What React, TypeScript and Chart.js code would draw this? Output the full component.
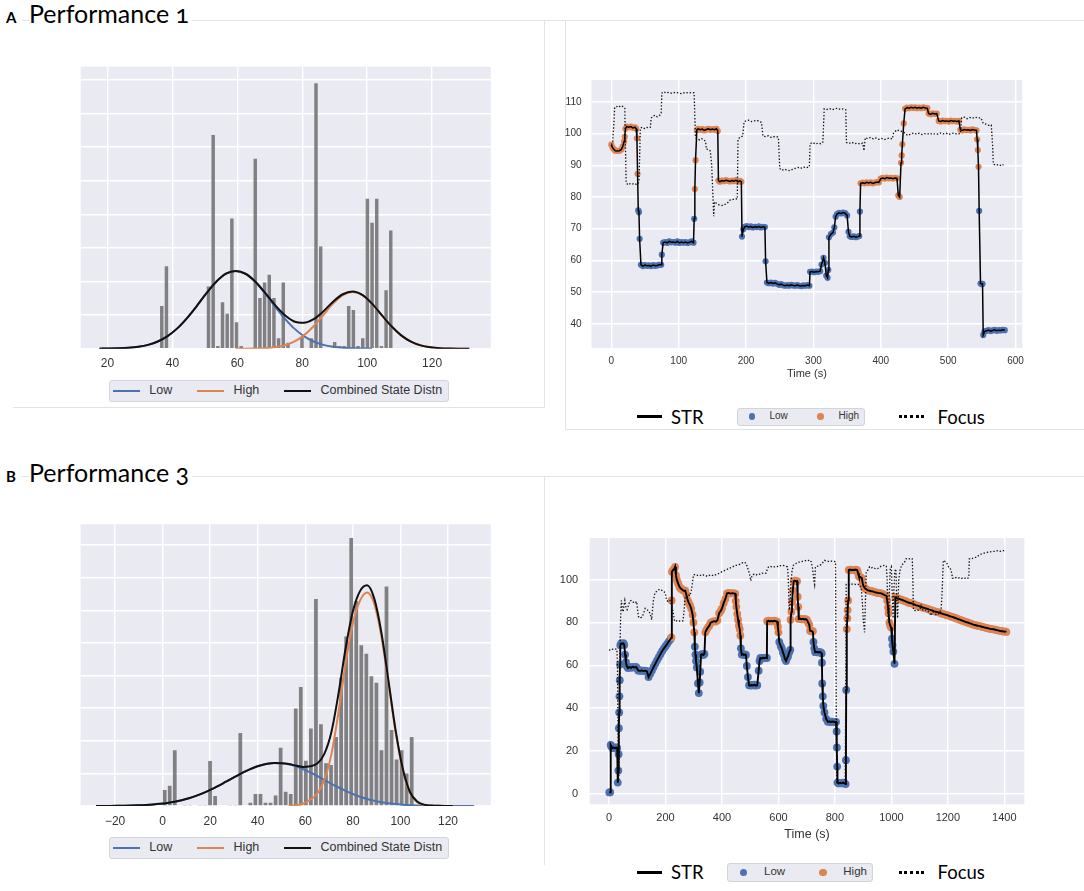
import { useEffect, useRef } from "react";
import { Chart, registerables } from "chart.js";

Chart.register(...registerables);

const SANS = "'Liberation Sans', Arial, sans-serif";
const HUMANIST = "Lato, 'Open Sans', sans-serif";
const BLUE = "#4C72B0";
const ORANGE = "#DD8452";
const PLOT_BG = "#EAEAF2";
const TEXT = "#333333";
const RULE = "#e3e3e3";

// ---------- Performance 1: histogram + state densities ----------
const perf1BinStart = 36;
const perf1BinWidth = 1.44;
const perf1Hist = [
  1.27, 2.45, 0, 0, 0, 0, 0, 0, 0, 0,
  1.85, 6.36, 0.08, 1.38, 1.04, 3.87, 0.79, 0.08, 0, 0,
  5.65, 1.51, 1.97, 2.2, 1.51, 0.31, 1.97, 0.18, 0, 0,
  0.35, 0, 0.31, 7.9, 3.04, 0, 0, 0.2, 0.08, 0.08,
  1.27, 1.15, 0.08, 0.31, 4.46, 3.75, 4.46, 0.08, 1.74, 3.52,
];
const perf1DensX = [
  17.5, 20.5, 23.5, 26.5, 29.5, 32.5, 35.5, 38.5, 41.5, 44.5, 47.5, 50.5, 53.5,
  56.5, 59.5, 62.5, 65.5, 68.5, 71.5, 74.5, 77.5, 80.5, 83.5, 86.5, 89.5, 92.5,
  95.5, 98.5, 101.5, 104.5, 107.5, 110.5, 113.5, 116.5, 119.5, 122.5, 125.5, 128.5, 131.5,
];
const perf1Low: (number | null)[] = [
  0.0016, 0.0043, 0.011, 0.026, 0.056, 0.114, 0.214, 0.374, 0.605, 0.912,
  1.27, 1.65, 1.99, 2.23, 2.31, 2.23, 1.99, 1.65, 1.27, 0.912,
  0.605, 0.374, 0.214, 0.114, 0.056, 0.026, 0.011, 0.0043, 0.0016,
  null, null, null, null, null, null, null, null, null, null,
];
const perf1High: (number | null)[] = [
  null, null, null, null, null, null, null, null, null, null, null, null, null, null,
  0.0004, 0.0015, 0.005, 0.015, 0.041, 0.098, 0.209, 0.396, 0.668, 1.0,
  1.34, 1.595, 1.69, 1.595, 1.34, 1.0, 0.668, 0.396, 0.209, 0.098,
  0.041, 0.015, 0.005, 0.0015, 0.0004,
];
const perf1Combined: (number | null)[] = [
  0.0016, 0.0043, 0.011, 0.026, 0.056, 0.114, 0.214, 0.374, 0.605, 0.912,
  1.27, 1.65, 1.99, 2.23, 2.31, 2.23, 2.0, 1.67, 1.31, 1.01,
  0.81, 0.77, 0.88, 1.11, 1.4, 1.62, 1.7, 1.6, 1.34, 1.0,
  0.668, 0.396, 0.209, 0.098, 0.041, 0.015, 0.005, 0.0015, 0.0004,
];
const perf1HistTicks = [20, 40, 60, 80, 100, 120];

// ---------- Performance 3: histogram + state densities ----------
const perf3BinStart = -0.2;
const perf3BinWidth = 2.12;
const perf3Hist = [
  0.49, 0.62, 1.71, 0, 0.03, 0.03, 0, 0.03, 0.03, 1.38,
  0.31, 0, 0, 0.03, 0.03, 2.24, 0, 0.1, 0.37, 0.37,
  0.1, 0.1, 0.32, 1.79, 0.44, 0.37, 2.99, 3.65, 1.39, 2.38,
  6.35, 2.51, 1.31, 1.26, 2.12, 3.93, 5.2, 8.22, 6.29, 4.93,
  4.67, 3.98, 3.78, 1.71, 6.73, 2.33, 1.43, 1.71, 1.0, 2.12,
];
const perf3DensX = [
  -28, -25, -22, -19, -16, -13, -10, -7, -4, -1, 2, 5, 8, 11, 14, 17, 20, 23,
  26, 29, 32, 35, 38, 41, 44, 47, 50, 53, 56, 59, 62, 65, 68, 71, 74, 77, 80,
  83, 86, 89, 92, 95, 98, 101, 104, 107, 110, 113, 116, 119, 122, 125, 128, 131,
];
const perf3Low: (number | null)[] = [
  0.001, 0.0017, 0.0029, 0.0048, 0.0079, 0.0126, 0.0197, 0.03, 0.045, 0.066,
  0.094, 0.131, 0.179, 0.239, 0.311, 0.397, 0.495, 0.604, 0.721, 0.841,
  0.958, 1.069, 1.165, 1.241, 1.294, 1.318, 1.313, 1.28, 1.218, 1.135,
  1.033, 0.92, 0.8, 0.681, 0.567, 0.462, 0.367, 0.285, 0.217, 0.161,
  0.117, 0.083, 0.058, 0.039, 0.026, 0.017, 0.011, 0.0067, 0.0041, 0.0024,
  0.0014, 0.0008, 0.0005, 0.0003,
];
const perf3High: (number | null)[] = [
  null, null, null, null, null, null, null, null, null, null,
  null, null, null, null, null, null, null, null, null, null,
  null, null, null, null, null, null, null,
  0.008, 0.025, 0.07, 0.19, 0.38, 0.8, 1.6, 2.9, 4.4, 5.6, 6.3, 6.55,
  6.2, 5.2, 3.75, 2.25, 1.1, 0.4, 0.12, 0.03, 0.006, 0.001, 0,
  null, null, null, null,
];
const perf3Combined: (number | null)[] = [
  0.001, 0.0017, 0.0029, 0.0048, 0.0079, 0.0126, 0.0197, 0.03, 0.045, 0.066,
  0.094, 0.131, 0.179, 0.239, 0.311, 0.397, 0.495, 0.604, 0.721, 0.841,
  0.958, 1.069, 1.165, 1.241, 1.294, 1.318, 1.313,
  1.29, 1.24, 1.2, 1.22, 1.3, 1.6, 2.28, 3.47, 4.86, 5.97, 6.59, 6.77,
  6.36, 5.32, 3.83, 2.31, 1.14, 0.43, 0.14, 0.041, 0.013, 0.005, 0.0024, 0.0014,
  null, null, null,
];
const perf3HistTicks = [-20, 0, 20, 40, 60, 80, 100, 120];
const densityGrid = [0, 1, 2, 3, 4, 5, 6, 7, 8];

// ---------- Performance 1: STR over time ----------
const perf1LowState: [number, number][] = [
  [40, 75.8], [41, 75.2], [42, 66.8], [44, 58.6], [47, 58.2], [50, 58.5], [53, 58.3], [56, 58.4],
  [59, 58.2], [62, 58.5], [65, 58.3], [68, 58.4], [71, 58.6], [74, 58.6], [75, 61.8], [77, 65.6],
  [80, 65.8], [83, 65.5], [86, 66], [89, 65.7], [92, 65.8], [95, 65.6], [98, 66], [101, 65.5],
  [104, 65.8], [107, 65.6], [110, 65.8], [113, 65.5], [116, 65.7], [119, 66], [122, 65.6], [123, 73.1],
  [194, 67.5], [196, 69.8], [198, 70.6], [201, 70.8], [204, 70.5], [207, 70.7], [210, 70.4], [213, 70.6],
  [216, 70.5], [219, 70.7], [222, 70.4], [225, 70.6], [228, 70.5], [229, 59.7], [231, 53], [234, 52.8],
  [237, 53], [240, 52.7], [243, 52.9], [246, 52.6], [249, 52.3], [252, 52.5], [255, 52.2], [258, 52],
  [261, 52.2], [264, 52], [267, 52.3], [270, 52.1], [273, 52], [276, 52.2], [279, 52], [282, 51.9],
  [285, 52.1], [288, 52], [291, 52.2], [294, 52], [295, 56.4], [298, 56.5], [301, 56.3], [304, 56.5],
  [307, 56.4], [310, 56.6], [312, 58.7], [315, 60.8], [317, 59.2], [319, 55.2], [321, 54.5], [322, 57],
  [323, 67.3], [326, 68.3], [329, 68.8], [331, 70.4], [333, 73.8], [335, 74.6], [338, 75], [341, 74.8],
  [344, 75.1], [347, 74.9], [350, 74.2], [352, 69], [354, 67.6], [357, 67.4], [360, 67.6], [363, 67.3],
  [366, 67.5], [368, 67.7], [369, 75.4],
  [546, 75.6], [548, 52.7], [550, 52.5], [551, 52.6], [552, 36.5], [554, 37.6], [557, 37.8], [560, 38],
  [563, 37.7], [566, 37.9], [569, 38.1], [572, 37.8], [575, 38], [578, 37.9], [581, 38.1], [584, 38],
];
const perf1HighState: [number, number][] = [
  [0, 96.5], [2, 95.5], [4, 95], [6, 94.6], [9, 94.5], [12, 94.6], [15, 95], [17, 96], [19, 97.5],
  [20, 99], [21, 101.5], [23, 102.2], [26, 102], [29, 102.2], [32, 101.8], [35, 102], [37, 101.5],
  [38, 98.5], [39, 87.3],
  [124, 82.5], [125, 91.6], [127, 101.2], [129, 101.5], [132, 101.2], [135, 101.4], [138, 101],
  [141, 101.3], [144, 101.5], [147, 101.2], [150, 101.4], [153, 101.2], [156, 101.5], [158, 100.8],
  [159, 85.2], [161, 84.8], [164, 85.2], [167, 85], [170, 85.3], [173, 85.1], [176, 84.9], [179, 85.2],
  [182, 85], [185, 85.3], [188, 84.8], [191, 85.1], [193, 84.8],
  [370, 84.3], [373, 84.5], [376, 84.3], [379, 84.6], [382, 84.4], [385, 84.6], [388, 84.3], [391, 84.5],
  [394, 84.7], [397, 84.6], [400, 85.8], [403, 86], [406, 85.8], [409, 86.1], [412, 85.9], [415, 86],
  [418, 85.8], [421, 86], [424, 85.9], [426, 80.5], [428, 80], [430, 90.8], [431, 93.1], [432, 96.6],
  [434, 103.2], [436, 107.8], [439, 108.2], [442, 108], [445, 108.3], [448, 108.1], [451, 108.3],
  [454, 108], [457, 108.2], [460, 108], [463, 108.3], [466, 108.1], [469, 108], [471, 106.3],
  [474, 106.1], [477, 106.4], [480, 106.2], [483, 106.3], [486, 104], [489, 103.8], [492, 104.1],
  [495, 103.9], [498, 104], [501, 103.8], [504, 104.1], [507, 103.9], [510, 104], [513, 103.8],
  [516, 104], [518, 101.2], [521, 101], [524, 101.3], [527, 101.1], [530, 101.2], [533, 101],
  [536, 101.3], [539, 101.1], [542, 101], [543, 98.2], [544, 94.8], [545, 89.5],
];
const perf1Focus: [number, number][] = [
  [0, 96.5], [2, 97], [4, 104], [5, 108.3], [8, 108.5], [11, 108.8], [14, 108.3], [17, 108.6],
  [20, 108], [21, 96], [22, 84.5], [25, 83.8], [28, 84.2], [31, 84], [34, 84.3], [37, 84], [40, 84.2],
  [41, 85], [42, 92], [43, 101.7], [46, 102], [49, 101.6], [52, 102], [55, 101.8], [58, 102],
  [59, 104.8], [62, 105.5], [65, 105.8], [68, 105.3], [71, 105.6], [74, 106.3], [75, 112.8],
  [78, 113.2], [81, 112.8], [85, 113], [90, 112.7], [95, 113], [100, 112.8], [105, 112.6], [110, 113],
  [115, 112.8], [120, 113], [123, 112.8], [124, 105], [125, 98.7], [128, 98.3], [131, 98], [134, 98.4],
  [137, 98.1], [140, 97.5], [141, 95.1], [144, 95], [147, 94.5], [149, 90], [151, 79.5], [152, 73.9],
  [153, 78.5], [156, 78], [160, 77.5], [164, 77.3], [168, 77.6], [172, 78], [176, 79], [180, 79.2],
  [184, 79.5], [187, 79.3], [188, 98.2], [192, 99], [195, 99.2], [197, 103.7], [200, 104], [204, 104.2],
  [208, 103.8], [212, 104], [216, 104.2], [220, 103.8], [223, 103.5], [225, 99.2], [229, 99], [233, 99.3],
  [237, 98.8], [241, 99], [245, 99.1], [248, 98.8], [250, 89], [253, 88.4], [257, 88.8], [261, 88.5],
  [265, 88.3], [269, 88.7], [273, 89], [277, 89.3], [281, 89], [285, 89.5], [289, 89.2], [294, 89.5],
  [295, 96.8], [299, 97.2], [303, 96.7], [307, 97], [311, 96.8], [314, 97.3], [316, 107.8], [320, 107.6],
  [324, 107.9], [328, 107.5], [332, 107.8], [336, 108], [340, 107.6], [344, 107.8], [348, 107.5],
  [349, 97.2], [353, 96.9], [357, 97.3], [361, 96.8], [365, 97], [369, 96.7], [373, 97], [375, 94.6],
  [377, 98.7], [381, 98.4], [385, 98.8], [389, 98.3], [393, 98.6], [397, 98.2], [401, 98.5], [405, 98.1],
  [409, 98.4], [413, 98.6], [417, 98.3], [419, 100.2], [424, 101.2], [428, 100.8], [432, 100.7],
  [436, 100.1], [440, 99.4], [444, 99.8], [449, 100.2], [453, 99.8], [457, 100.1], [461, 99.7],
  [465, 100], [469, 99.8], [473, 100.1], [477, 99.7], [481, 100], [485, 99.8], [489, 100.2],
  [493, 99.9], [497, 100.1], [501, 99.7], [505, 100], [509, 100.2], [513, 99.8], [518, 100],
  [520, 105], [524, 105.2], [528, 104.7], [532, 105.1], [536, 104.8], [540, 105.2], [544, 104.9],
  [548, 105], [550, 104.3], [552, 103.2], [556, 103], [560, 102.6], [564, 102.7], [566, 96],
  [567, 90.4], [571, 90], [575, 90.3], [579, 89.8], [582, 90.2],
];
const perf1TimeTicks = [0, 100, 200, 300, 400, 500, 600];
const perf1StrTicks = [40, 50, 60, 70, 80, 90, 100, 110];

// ---------- Performance 3: STR over time ----------
const perf3LowState: [number, number][] = [
  [1, 0.6], [4, 0.7], [6, 22.8], [9, 22], [13, 21.3], [17, 21.6], [21, 21.2], [25, 21.6], [29, 21.4],
  [31, 5.2], [33, 10.8], [34, 18.5], [35, 30.6], [36, 38], [37, 45.5], [38, 53], [39, 60.4], [40, 69.4],
  [43, 70.2], [47, 70], [51, 70.3], [54, 69.5], [57, 65], [60, 61.5], [63, 59.5], [67, 58.7], [72, 59.2],
  [78, 58.8], [84, 59.3], [90, 59], [96, 59.2], [100, 58.4], [104, 57.5], [110, 57.4], [116, 57.6],
  [122, 57.3], [128, 57.5], [134, 57.2], [140, 54.5], [146, 56], [152, 57.6], [158, 59.2], [164, 60.8],
  [170, 62.3], [176, 63.7], [182, 65.2], [188, 66.6], [194, 67.8], [200, 68.9], [206, 70], [212, 71.2],
  [218, 72.3],
  [304, 68.7], [306, 65], [308, 62], [311, 59], [315, 51.5], [318, 47], [321, 52], [323, 57], [326, 65],
  [330, 65.2], [334, 64.8], [338, 65.3],
  [467, 67.9], [470, 65], [474, 65.2], [478, 64.8], [482, 65.1], [485, 64.9], [488, 59.7], [492, 54.5],
  [496, 50.7], [500, 50.5], [505, 50.8], [510, 50.6], [515, 50.9], [520, 50.5], [525, 50.7], [530, 57.5],
  [533, 62], [536, 63.4], [541, 63.2], [546, 63.5], [551, 63.3], [556, 63.6], [559, 63.4],
  [603, 70.9], [608, 69], [612, 67.9], [616, 66], [619, 65], [623, 63], [627, 62], [631, 63.5],
  [634, 64.2], [638, 66], [642, 67.2],
  [724, 70.9], [727, 67.9], [730, 66.1], [735, 66.3], [740, 66], [745, 66.2], [750, 66], [753, 65.5],
  [754, 61.2], [755, 51.5], [757, 45.5], [759, 41], [763, 38], [769, 35], [775, 33.6], [780, 33.8],
  [785, 33.5], [790, 33.7], [795, 33.6], [800, 33.5], [804, 33.6], [806, 29.1], [807, 21.6], [808, 12.7],
  [809, 5.2], [814, 4.8], [819, 5.1], [824, 4.9], [829, 5.2], [834, 4.8], [838, 4.5], [839, 15.7],
  [840, 48.5],
  [1002, 72.4], [1004, 69.4], [1007, 66.4], [1011, 60.7],
];
const perf3HighState: [number, number][] = [
  [221, 73], [222, 90.3], [223, 103.7], [227, 104.5], [231, 105], [234, 106], [237, 102], [240, 100],
  [243, 98.8], [246, 97.8], [250, 96.5], [254, 95.8], [258, 95.5], [262, 95], [266, 94.8], [270, 94.8],
  [274, 93], [279, 90.3], [283, 89], [287, 88], [291, 86.5], [296, 83.6], [299, 80], [302, 75.4],
  [341, 75.4], [345, 76.5], [350, 77.6], [355, 78.5], [360, 79.9], [366, 80.3], [372, 80.6], [378, 80.4],
  [384, 81], [390, 84.3], [396, 85.5], [400, 86.6], [406, 89], [412, 91], [418, 93.6], [424, 93.8],
  [430, 93.5], [436, 93.7], [442, 93.6], [447, 93.4], [449, 90], [451, 87.3], [454, 84], [457, 81.3],
  [460, 78.5], [463, 76.9], [465, 73.9],
  [560, 80.6], [565, 80.8], [570, 80.5], [575, 80.7], [580, 80.5], [585, 80.8], [590, 80.6], [595, 80.4],
  [598, 78], [600, 75.4],
  [643, 81.3], [646, 85], [648, 89.5], [651, 95], [654, 99.3], [658, 99.5], [662, 99.2], [666, 99.3],
  [668, 92], [670, 87.3], [672, 81.6], [677, 81.8], [682, 81.5], [687, 81.7], [692, 81.4], [697, 81.6],
  [701, 81.2], [705, 80], [709, 79], [712, 76.1], [716, 76], [719, 75.8], [722, 75.9],
  [842, 76.9], [844, 82], [845, 85.8], [847, 90.3], [849, 104.5], [854, 104.7], [859, 104.4], [864, 104.6],
  [869, 104.5], [874, 104.7], [879, 104.4], [882, 103], [885, 101.5], [890, 101.2], [895, 100.7], [899, 98],
  [901, 97], [906, 96], [911, 95.5], [917, 95], [923, 94.8], [929, 94.6], [934, 94.5], [940, 94.2],
  [946, 94], [952, 93.8], [958, 93.7], [964, 93.6], [970, 93.2], [976, 92.8], [982, 92.5], [985, 90.3],
  [988, 87], [990, 84.3], [993, 79.9], [996, 78.5], [999, 77.6],
  [1014, 91.8], [1020, 91.4], [1026, 91.1], [1032, 90.8], [1038, 90.5], [1044, 90.2], [1050, 89.9],
  [1056, 89.5], [1062, 89.2], [1068, 89], [1074, 88.8], [1080, 88.5], [1086, 88.1], [1092, 87.9],
  [1098, 87.6], [1104, 87.3], [1110, 87], [1116, 86.8], [1122, 86.6], [1128, 86.3], [1134, 86],
  [1140, 85.8], [1146, 85.5], [1152, 85.2], [1158, 85], [1164, 84.8], [1170, 84.6], [1176, 84.3],
  [1182, 84], [1188, 83.8], [1194, 83.5], [1200, 83.3], [1206, 83], [1212, 82.7], [1218, 82.5],
  [1224, 82.2], [1230, 81.9], [1236, 81.6], [1242, 81.3], [1248, 81], [1254, 80.7], [1260, 80.4],
  [1266, 80.1], [1272, 79.9], [1278, 79.6], [1284, 79.3], [1290, 79], [1296, 78.8], [1302, 78.6],
  [1308, 78.4], [1314, 78.3], [1320, 78], [1326, 77.8], [1332, 77.6], [1338, 77.4], [1344, 77.2],
  [1350, 77], [1356, 76.9], [1362, 76.8], [1368, 76.6], [1374, 76.4], [1380, 76.2], [1386, 76],
  [1392, 75.9], [1398, 75.8], [1404, 75.7], [1407, 75.6],
];
const perf3Focus: [number, number][] = [
  [0, 67.2], [6, 67], [12, 67.5], [18, 67.3], [24, 67.6], [28, 67.4], [30, 60], [32, 30], [33, 6], [35, 6],
  [37, 35], [39, 68], [41, 82], [44, 90.3], [47, 86], [50, 85], [53, 88], [56, 90.3], [60, 87], [64, 86],
  [69, 88], [74, 90], [80, 90.3], [86, 89.5], [92, 89], [98, 89.8], [101, 86], [104, 82.8], [110, 82],
  [116, 82.5], [122, 84], [128, 86.6], [134, 86], [140, 85.5], [146, 84], [151, 81.3], [157, 90], [163, 94],
  [169, 94.5], [175, 95.2], [181, 95.5], [187, 95], [193, 94.3], [199, 94], [204, 90.3], [210, 89.8],
  [216, 90.3], [222, 88], [227, 85], [232, 80.6], [238, 80.8], [244, 80.4], [250, 80.7], [256, 80.5],
  [262, 80.8], [266, 86], [270, 92.5], [276, 92.3], [282, 92.8], [287, 92.5], [293, 96], [299, 102.2],
  [306, 102.5], [313, 102], [320, 102.3], [327, 101.8], [334, 102.2], [341, 102], [348, 101.5], [355, 102],
  [362, 102.3], [369, 101.8], [376, 102.2], [383, 102.5], [390, 103], [397, 103.5], [404, 104], [411, 104.3],
  [418, 104.8], [423, 105.2], [430, 105.5], [437, 105.8], [444, 106.5], [451, 106.7], [458, 107], [465, 107.2],
  [472, 107.8], [479, 108.2], [486, 107.5], [492, 105], [497, 103], [502, 99.5], [507, 102.2], [514, 102.5],
  [521, 102.2], [528, 102.8], [535, 102.5], [542, 103], [549, 102.8], [556, 103], [561, 105], [565, 106],
  [572, 106.2], [579, 105.8], [586, 106], [593, 106.3], [600, 106], [607, 106.5], [614, 106.7], [620, 106.5],
  [627, 106.2], [632, 106], [634, 103], [636, 95], [638, 85.8], [641, 88], [644, 98], [648, 104],
  [653, 106.7], [660, 107.3], [666, 108], [672, 108.2], [678, 108.2], [685, 108.5], [692, 108.7], [698, 109],
  [704, 108.8], [710, 109.2], [716, 108.3], [721, 105], [725, 100], [728, 97.8], [731, 106], [737, 106.2],
  [744, 106.5], [750, 107], [757, 108], [763, 109], [770, 108.7], [777, 108.5], [784, 108.8], [791, 108.5],
  [798, 108.5], [802, 108.3], [804, 60], [806, 5], [812, 5.5], [818, 5], [824, 5.2], [830, 5], [836, 5.3],
  [838, 40], [840, 97.8], [846, 97.9], [852, 97.6], [858, 98], [864, 97.7], [870, 97.9], [876, 97.6],
  [882, 97.8], [887, 97.7], [890, 97], [893, 96], [897, 90], [901, 80], [905, 75.4], [908, 90], [911, 103.7],
  [917, 104.5], [923, 106], [929, 105.5], [935, 105.8], [941, 105.3], [947, 105], [952, 105.2], [958, 105.8],
  [964, 106.3], [970, 106.5], [976, 106.7], [982, 106.3], [985, 100], [987, 85], [990, 80], [993, 95],
  [996, 105], [1000, 106], [1003, 92], [1006, 82], [1009, 96], [1012, 104], [1016, 105], [1019, 90],
  [1022, 82], [1026, 100], [1030, 104], [1036, 106.7], [1042, 107.5], [1048, 108.5], [1052, 109.7],
  [1058, 110], [1064, 109.7], [1070, 110], [1074, 109.7], [1076, 100], [1078, 85.8], [1084, 85.6],
  [1090, 86], [1096, 85.7], [1102, 86.5], [1106, 88.5], [1110, 86], [1116, 85.4], [1122, 85.8],
  [1128, 85.2], [1134, 84.8], [1140, 83.2], [1146, 85], [1152, 84.5], [1158, 83.8], [1164, 83.5],
  [1170, 84.5], [1176, 86], [1180, 95], [1182, 103], [1184, 109], [1190, 108.5], [1196, 107.8],
  [1202, 106], [1208, 105.5], [1214, 103], [1216, 100.7], [1222, 100.5], [1228, 101], [1234, 100.6],
  [1240, 100.8], [1246, 100.4], [1252, 100.7], [1258, 100.5], [1264, 100.9], [1270, 100.6], [1274, 101],
  [1276, 109.7], [1282, 109.5], [1288, 110], [1295, 110.4], [1301, 110.4], [1308, 111.2], [1315, 111.8],
  [1322, 112.2], [1329, 112.4], [1336, 112.7], [1343, 112.8], [1350, 113], [1357, 113.1], [1364, 113.2],
  [1372, 113.4], [1379, 113.6], [1386, 113.2], [1393, 113.5], [1400, 113.6], [1404, 113.3],
];
const perf3TimeTicks = [0, 200, 400, 600, 800, 1000, 1200, 1400];
const perf3StrTicks = [0, 20, 40, 60, 80, 100];

// ---------- layout helpers ----------
type Frame = {
  left: number; top: number; width: number; height: number;
  padTop: number; padRight: number; yWidth: number; xHeight: number; bottom: number;
};

// canvas box around a wanted plot rectangle (page pixels)
function frameFor(l: number, r: number, t: number, b: number, yRoom: number, xRoom: number): Frame {
  const left = Math.floor(l) - yRoom;
  const top = Math.floor(t) - 6;
  const width = Math.ceil(r) + 6 - left;
  const height = Math.ceil(b) + xRoom - top;
  return {
    left, top, width, height,
    padTop: t - top,
    padRight: left + width - r,
    yWidth: l - left,
    xHeight: top + height - b,
    bottom: b,
  };
}

const plotBackground = {
  id: "plotBackground",
  beforeDraw(chart: any) {
    const { ctx, chartArea: a } = chart;
    ctx.save();
    ctx.fillStyle = PLOT_BG;
    ctx.fillRect(a.left, a.top, a.right - a.left, a.bottom - a.top);
    ctx.restore();
  },
};

// plain numbers, matplotlib-style minus sign
const fmt = (v: number) => String(v).replace("-", "\u2212");

function axis(f: Frame, which: "x" | "y", min: number, max: number, ticks: number[], extra: any) {
  return {
    type: "linear",
    min,
    max,
    offset: false,
    afterBuildTicks: (s: any) => {
      s.ticks = ticks.map((v) => ({ value: v }));
    },
    afterFit: (s: any) => {
      if (which === "x") s.height = f.xHeight;
      else s.width = f.yWidth;
    },
    grid: { color: "#ffffff", lineWidth: 1.4, drawTicks: false, offset: false },
    border: { display: false },
    ...extra,
  };
}

function baseOptions(f: Frame) {
  return {
    responsive: true,
    maintainAspectRatio: false,
    animation: false,
    events: [],
    layout: { autoPadding: false, padding: { top: f.padTop, right: f.padRight, left: 0, bottom: 0 } },
    plugins: { legend: { display: false }, tooltip: { enabled: false } },
  };
}

function histogramConfig(
  f: Frame,
  start: number, width: number, hist: number[],
  densX: number[], low: (number | null)[], high: (number | null)[], combined: (number | null)[],
  xMin: number, xMax: number, yMax: number, xTicks: number[],
) {
  const pts = (ys: (number | null)[]) => densX.map((x, i) => ({ x, y: ys[i] }));
  const curve = (label: string, color: string, ys: (number | null)[], order: number) => ({
    type: "line",
    label,
    data: pts(ys),
    borderColor: color,
    borderWidth: 2,
    pointRadius: 0,
    cubicInterpolationMode: "monotone",
    spanGaps: false,
    order,
  });
  return {
    type: "bar",
    data: {
      datasets: [
        curve("Combined State Distn", "#111111", combined, 0),
        curve("High", ORANGE, high, 1),
        curve("Low", BLUE, low, 2),
        {
          type: "bar",
          label: "STR",
          data: hist.map((h, i) => ({ x: start + width * (i + 0.5), y: h })),
          backgroundColor: "rgba(98,98,100,0.78)",
          barPercentage: 0.74,
          categoryPercentage: 1,
          order: 3,
        },
      ],
    },
    options: {
      ...baseOptions(f),
      scales: {
        x: axis(f, "x", xMin, xMax, xTicks, {
          ticks: {
            padding: 8, autoSkip: false, maxRotation: 0, color: TEXT,
            font: { family: SANS, size: 12 }, callback: (v: number) => fmt(v),
          },
        }),
        y: axis(f, "y", 0, yMax, densityGrid, { ticks: { display: false } }),
      },
    },
    plugins: [plotBackground],
  };
}

function timeConfig(
  f: Frame,
  lowState: [number, number][], highState: [number, number][], focus: [number, number][],
  xMin: number, xMax: number, yMin: number, yMax: number,
  xTicks: number[], yTicks: number[],
  fontSize: number, titleSize: number, titleY: number, yPad: number, dotR: number, lineW: number,
) {
  const xy = (p: [number, number][]) => p.map(([x, y]) => ({ x, y }));
  const str = [...lowState, ...highState].sort((a, b) => a[0] - b[0]);
  const tickFont = { family: SANS, size: fontSize };
  const titlePadBottom = f.xHeight - (titleY - f.bottom) - 0.6 * titleSize;
  return {
    type: "scatter",
    data: {
      datasets: [
        {
          type: "line", label: "Focus", data: xy(focus), borderColor: "#111111",
          borderWidth: 1.3, borderDash: [1.4, 1.9], pointRadius: 0, tension: 0, order: 0,
        },
        {
          type: "line", label: "STR", data: xy(str), borderColor: "#000000",
          borderWidth: lineW, pointRadius: 0, tension: 0, order: 1,
        },
        {
          type: "scatter", label: "High", data: xy(highState), backgroundColor: ORANGE,
          pointRadius: dotR, borderWidth: 0, order: 2,
        },
        {
          type: "scatter", label: "Low", data: xy(lowState), backgroundColor: BLUE,
          pointRadius: dotR, borderWidth: 0, order: 3,
        },
      ],
    },
    options: {
      ...baseOptions(f),
      scales: {
        x: axis(f, "x", xMin, xMax, xTicks, {
          ticks: {
            padding: 7, autoSkip: false, maxRotation: 0, color: TEXT, font: tickFont,
            callback: (v: number) => fmt(v),
          },
          title: {
            display: true, text: "Time (s)", color: TEXT,
            font: { family: SANS, size: titleSize },
            padding: { top: 0, bottom: titlePadBottom },
          },
        }),
        y: axis(f, "y", yMin, yMax, yTicks, {
          ticks: { padding: yPad, autoSkip: false, color: TEXT, font: tickFont, callback: (v: number) => fmt(v) },
        }),
      },
    },
    plugins: [plotBackground],
  };
}

// ---------- components ----------
function ChartBox({ frame, config }: { frame: Frame; config: any }) {
  const ref = useRef<HTMLCanvasElement>(null);
  useEffect(() => {
    if (!ref.current) return;
    const chart = new Chart(ref.current, config);
    return () => chart.destroy();
  }, []);
  return (
    <div style={{ position: "absolute", left: frame.left, top: frame.top, width: frame.width, height: frame.height }}>
      <canvas ref={ref} />
    </div>
  );
}

function Rule({ x, y, w, h }: { x: number; y: number; w: number; h: number }) {
  return <div style={{ position: "absolute", left: x, top: y, width: w, height: h, background: RULE }} />;
}

function PanelTitle({ letter, text, baseline }: { letter: string; text: string; baseline: number; }) {
  return (
    <>
      <div style={{ position: "absolute", left: 6, top: baseline - 14.8, font: `bold 15px ${HUMANIST}`, lineHeight: "18px", color: "#000" }}>
        {letter}
      </div>
      <div style={{ position: "absolute", left: 29, top: baseline - 24.7, font: `25px ${HUMANIST}`, lineHeight: "30px", color: "#000", background: "#fff", paddingRight: 3, fontVariantNumeric: "oldstyle-nums" }}>
        {text}
      </div>
    </>
  );
}

function DensityLegend({ left, top }: { left: number; top: number }) {
  const items = [
    { color: BLUE, label: "Low", line: 3, text: 39.3 },
    { color: ORANGE, label: "High", line: 86.7, text: 123.6 },
    { color: "#111111", label: "Combined State Distn", line: 174.3, text: 210.5 },
  ];
  return (
    <div style={{ position: "absolute", left, top, width: 340, height: 22, boxSizing: "border-box", background: PLOT_BG, border: "1px solid #d3d3da", borderRadius: 3 }}>
      {items.map((it) => (
        <div key={it.label}>
          <div style={{ position: "absolute", left: it.line, top: 8.5, width: 27, height: 2, background: it.color }} />
          <div style={{ position: "absolute", left: it.text, top: 1.8, font: `12.5px ${SANS}`, lineHeight: "15px", color: TEXT, whiteSpace: "nowrap" }}>
            {it.label}
          </div>
        </div>
      ))}
    </div>
  );
}

function StateLegend(p: {
  cy: number; boxLeft: number; boxWidth: number; boxTop: number; boxHeight: number;
  lowDot: number; lowText: number; highDot: number; highText: number; size: number; dotR: number;
}) {
  const big = 18.5;
  const dot = (cx: number, color: string) => (
    <div style={{ position: "absolute", left: cx - p.dotR, top: p.cy - p.dotR, width: 2 * p.dotR, height: 2 * p.dotR, borderRadius: "50%", background: color }} />
  );
  const small = (x: number, label: string) => (
    <div style={{ position: "absolute", left: x, top: p.cy - 0.6 * p.size - 1, font: `${p.size}px ${SANS}`, lineHeight: `${1.2 * p.size}px`, color: TEXT }}>
      {label}
    </div>
  );
  return (
    <>
      <div style={{ position: "absolute", left: 637, top: p.cy - 1.3, width: 25, height: 2.6, background: "#000" }} />
      <div style={{ position: "absolute", left: 671, top: p.cy - 0.6 * big, font: `${big}px ${HUMANIST}`, lineHeight: `${1.2 * big}px`, color: "#000" }}>
        STR
      </div>
      <div style={{ position: "absolute", left: p.boxLeft, top: p.boxTop, width: p.boxWidth, height: p.boxHeight, boxSizing: "border-box", background: PLOT_BG, border: "1px solid #d3d3da", borderRadius: 3 }} />
      {dot(p.lowDot, BLUE)}
      {small(p.lowText, "Low")}
      {dot(p.highDot, ORANGE)}
      {small(p.highText, "High")}
      <div style={{ position: "absolute", left: 899, top: p.cy - 1.5, width: 25, height: 0, borderTop: "3px dotted #000" }} />
      <div style={{ position: "absolute", left: 937.5, top: p.cy - 0.6 * big, font: `${big}px ${HUMANIST}`, lineHeight: `${1.2 * big}px`, color: "#000" }}>
        Focus
      </div>
    </>
  );
}

const histFrame1 = frameFor(80.7, 490.8, 66.7, 348.7, 20, 30);
const histFrame3 = frameFor(80.6, 490.8, 524.3, 806, 20, 30);
const timeFrame1 = frameFor(591.5, 1024.4, 70, 347.9, 40, 35);
const timeFrame3 = frameFor(589.7, 1024.4, 526.7, 804.3, 40, 40);

export default function App() {
  useEffect(() => {
    document.body.style.margin = "0";
  }, []);

  return (
    <div style={{ position: "relative", width: 1084, height: 891, background: "#fff", overflow: "hidden" }}>
      {/* panel rules */}
      <Rule x={22} y={19.5} w={1062} h={1} />
      <Rule x={544} y={20} w={1} h={387} />
      <Rule x={13} y={407} w={532} h={1} />
      <Rule x={565} y={20} w={1} h={409} />
      <Rule x={565} y={429} w={519} h={1} />
      <Rule x={22} y={476} w={1062} h={1} />
      <Rule x={544} y={476} w={1} h={389} />

      <PanelTitle letter="A" text="Performance 1" baseline={23} />
      <PanelTitle letter="B" text="Performance 3" baseline={481.7} />

      <ChartBox
        frame={histFrame1}
        config={histogramConfig(histFrame1, perf1BinStart, perf1BinWidth, perf1Hist, perf1DensX,
          perf1Low, perf1High, perf1Combined, 11.74, 138.1, 8.39, perf1HistTicks)}
      />
      <DensityLegend left={109} top={380} />

      <ChartBox
        frame={timeFrame1}
        config={timeConfig(timeFrame1, perf1LowState, perf1HighState, perf1Focus,
          -29.4, 610, 32.4, 116.9, perf1TimeTicks, perf1StrTicks, 10, 11, 374, 10, 3.1, 1.5)}
      />
      <StateLegend cy={416.7} boxLeft={737} boxWidth={128} boxTop={408} boxHeight={17.5}
        lowDot={751.8} lowText={769.5} highDot={820.5} highText={838.5} size={10} dotR={3.3} />

      <ChartBox
        frame={histFrame3}
        config={histogramConfig(histFrame3, perf3BinStart, perf3BinWidth, perf3Hist, perf3DensX,
          perf3Low, perf3High, perf3Combined, -34.5, 138, 8.64, perf3HistTicks)}
      />
      <DensityLegend left={109} top={837} />

      <ChartBox
        frame={timeFrame3}
        config={timeConfig(timeFrame3, perf3LowState, perf3HighState, perf3Focus,
          -68.4, 1471, -4.93, 119.4, perf3TimeTicks, perf3StrTicks, 11, 12.5, 834.3, 11.5, 3.9, 1.9)}
      />
      <StateLegend cy={872.5} boxLeft={727} boxWidth={146} boxTop={862.5} boxHeight={19.5}
        lowDot={743.8} lowText={764} highDot={823} highText={843.3} size={11.5} dotR={3.6} />
    </div>
  );
}
